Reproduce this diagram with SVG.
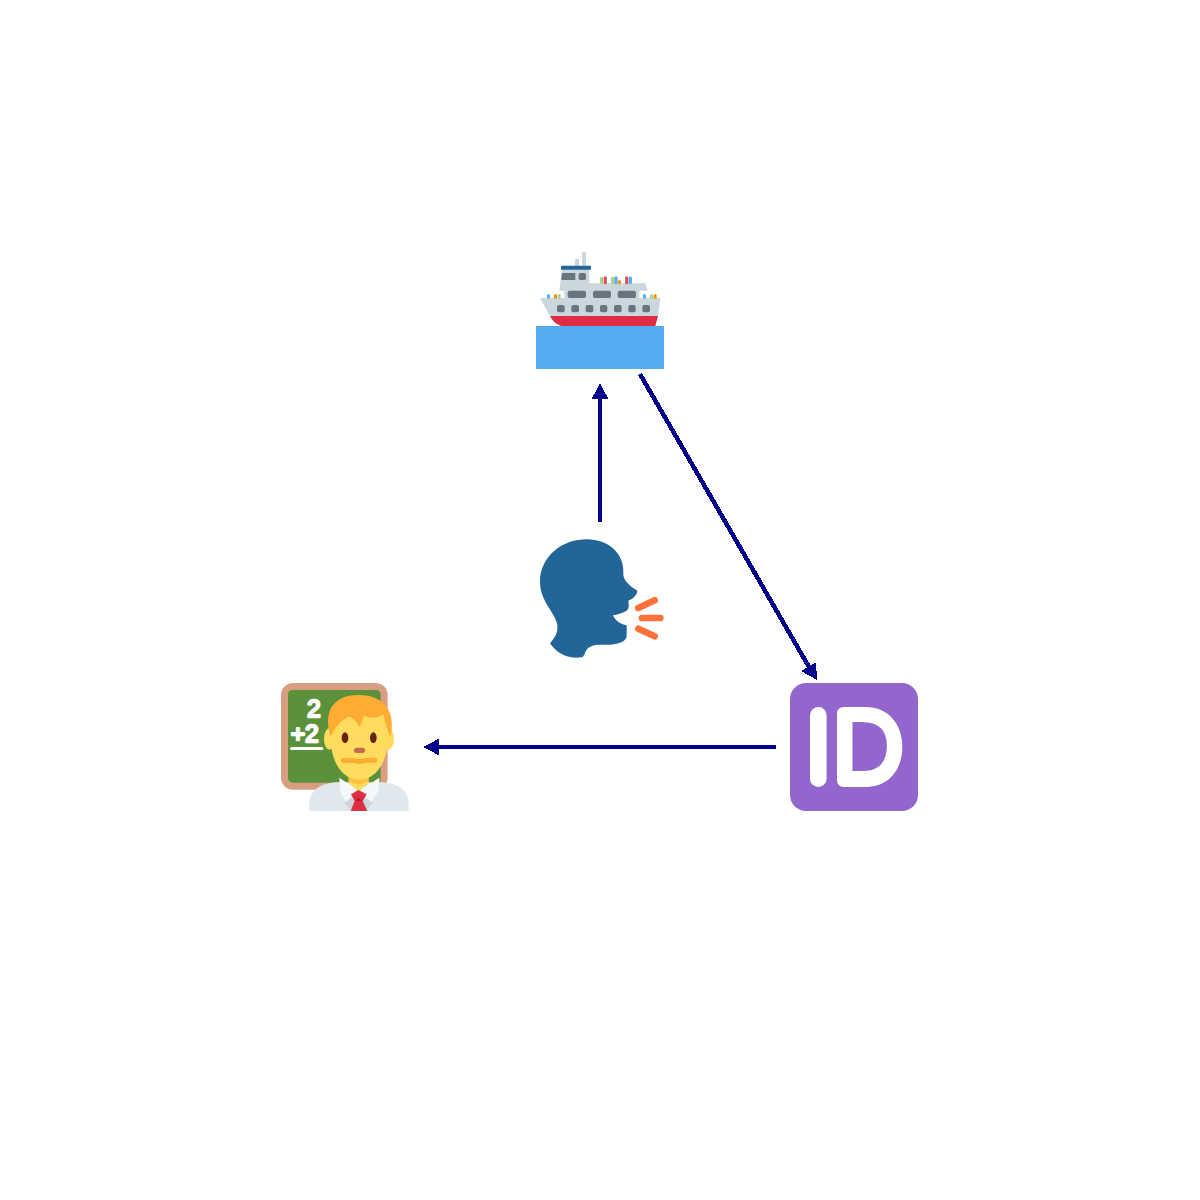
<svg xmlns="http://www.w3.org/2000/svg" width="1200" height="1200" viewBox="0 0 1200 1200">
<defs>
<clipPath id="pill"><rect x="810" y="707" width="16.6" height="80" rx="8.3"/></clipPath>
<clipPath id="dshape"><path d="M844 707H866C888 707 902.3 724 902.3 747C902.3 770 888 787 866 787H844Q837 787 837 780V714Q837 707 844 707Z"/></clipPath>
</defs>
<style>
.c{fill:none;stroke:#00008b;stroke-width:4;shape-rendering:crispEdges}
.h{fill:#00008b;shape-rendering:crispEdges}
.win{fill:#66757f}
.hull{fill:#ccd6dd}
.t{font-family:"Liberation Sans",Arial,sans-serif;fill:#fff;stroke:#fff;stroke-linejoin:round}
</style>
<rect width="1200" height="1200" fill="#fff"/>
<g id="connectors">
<path class="c" d="M600 522V396"/><path class="h" d="M600 383.500L608.500 399H591.500Z"/>
<path class="c" style="stroke-width:4.500" d="M640 374L809 667"/><path class="h" d="M817 680L801 671L816 662.500Z"/>
<path class="c" d="M776 747H436"/><path class="h" d="M423.500 747L439 738.500V755.500Z"/>
</g>
<g id="ship" transform="translate(526 240) scale(.33333)">
<rect x="30" y="258" width="384" height="129" fill="#55acee"/>
<path d="M72 228H396L388 258H105Q82 250 72 228Z" fill="#dd2e44"/>
<path d="M42 174H403L396 228H72Z" class="hull"/>
<rect x="147" y="56" width="12" height="24" rx="5" fill="#ccd6dd"/>
<rect x="168" y="35" width="12" height="45" rx="5" fill="#ccd6dd"/>
<path d="M108 88H190V130H358L365 152H100Z" class="hull"/>
<rect x="115" y="150" width="225" height="26" class="hull"/>
<rect x="105" y="77" width="90" height="12" rx="3" fill="#226699"/>
<path d="M108 99H148V120H106Z" class="win"/>
<rect x="158" y="99" width="22" height="21" rx="5" class="win"/>
<rect x="125" y="152" width="55" height="22" rx="6" class="win"/>
<rect x="201" y="152" width="54" height="22" rx="6" class="win"/>
<rect x="275" y="152" width="55" height="22" rx="6" class="win"/>
<g class="win">
<rect x="93" y="195" width="23" height="22" rx="6"/><rect x="136" y="195" width="23" height="22" rx="6"/><rect x="179" y="195" width="23" height="22" rx="6"/><rect x="222" y="195" width="22" height="22" rx="6"/><rect x="264" y="195" width="23" height="22" rx="6"/><rect x="307" y="195" width="22" height="22" rx="6"/><rect x="349" y="195" width="23" height="22" rx="6"/>
</g>
<rect x="222" y="110" width="10" height="23" rx="5" fill="#a6d388"/>
<rect x="233" y="109" width="10" height="24" rx="5" fill="#dd5566"/>
<rect x="255" y="110" width="10" height="23" rx="5" fill="#a6d388"/>
<rect x="265" y="109" width="10" height="24" rx="5" fill="#5dadec"/>
<rect x="276" y="120" width="9" height="13" rx="4.500" fill="#f4900c"/>
<rect x="297" y="109" width="10" height="24" rx="5" fill="#dd5566"/>
<rect x="308" y="109" width="10" height="24" rx="5" fill="#5dadec"/>
<rect x="63" y="162" width="9" height="14" rx="4.500" fill="#5dadec"/>
<rect x="84" y="162" width="9" height="14" rx="4.500" fill="#f4900c"/>
<rect x="95" y="162" width="9" height="14" rx="4.500" fill="#a6d388"/>
<rect x="351" y="162" width="9" height="14" rx="4.500" fill="#5dadec"/>
<rect x="372" y="162" width="9" height="14" rx="4.500" fill="#a6d388"/>
<rect x="383" y="162" width="9" height="14" rx="4.500" fill="#f4900c"/>
</g>
<g id="speaker" transform="translate(530 530) scale(.33333)">
<path d="M60 340C75 322 84 310 82 285C78 250 30 215 30 155C32 75 100 28 170 28C235 28 285 70 280 135C282 155 305 172 322 182C322 192 312 205 295 212C297 225 298 235 290 242C275 250 262 254 249 256C256 272 270 283 290 286V320C285 335 270 341 240 344C215 346 195 340 178 352C165 360 165 375 158 381C115 390 80 370 60 340Z" fill="#226699"/>
<g stroke="#ff7139" stroke-width="20" stroke-linecap="round" fill="none">
<path d="M325 234L374 211"/><path d="M336 264H391"/><path d="M325 296L374 319"/>
</g>
</g>
<g id="id-button">
<rect x="790" y="683" width="128" height="128" rx="16" fill="#9266cc"/>
<text class="t" x="803.500" y="783" font-size="105" stroke-width="8" clip-path="url(#pill)">I</text>
<text class="t" x="830" y="783" font-size="105" stroke-width="8" clip-path="url(#dshape)">D</text>
</g>
<g id="teacher" transform="translate(270 675) scale(.33333)">
<rect x="33" y="24" width="320" height="320" rx="36" fill="#d99e82"/>
<rect x="54" y="45" width="278" height="278" rx="14" fill="#5c913b"/>
<text class="t" x="111" y="125" font-size="74" stroke-width="7">2</text>
<text class="t" x="62" y="202" font-size="74" stroke-width="7">+2</text>
<rect x="60" y="216" width="100" height="9" rx="4.500" fill="#fff"/>
<path d="M118 408V385C118 350 150 322 205 322H330C385 322 416 350 416 385V408Z" fill="#e1e8ed"/>
<path d="M222 382L265 358L308 382L292 405L265 375L240 405Z" fill="#ccd6dd"/>
<path d="M236 285H296V325L265 350L236 325Z" fill="#ffdc5d"/>
<path d="M236 298Q266 325 296 298V318Q266 338 236 318Z" fill="#f7b733" opacity=".7"/>
<path d="M208 308L262 345L228 382L210 348Z" fill="#f5f8fa"/>
<path d="M328 308L272 345L303 382L325 348Z" fill="#f5f8fa"/>
<path d="M243 358L265 345L290 358L278 378L292 408H242L254 378Z" fill="#dd2e44"/>
<path d="M254 378L265 368L278 378Z" fill="#a0041e" opacity=".6"/>
<ellipse cx="178" cy="192" rx="16" ry="32" fill="#ffdc5d"/><ellipse cx="356" cy="192" rx="16" ry="32" fill="#ffdc5d"/>
<path d="M180 170C180 95 225 70 267 70C320 70 356 110 356 170C356 245 330 312 267 314C205 312 180 245 180 170Z" fill="#ffdc5d"/>
<path d="M182 184C160 115 185 60 265 60C345 60 378 110 362 186C352 165 346 145 340 118C320 132 295 130 282 122C278 135 274 148 268 156C262 140 245 126 236 125C215 135 198 152 182 184Z" fill="#ffac33"/>
<ellipse cx="225" cy="188" rx="10" ry="16" fill="#662113"/>
<ellipse cx="310" cy="188" rx="10" ry="16" fill="#662113"/>
<rect x="252" y="218" width="33" height="16" rx="8" fill="#c1694f"/>
<path d="M220 256Q245 254 267 260Q290 254 315 256" fill="none" stroke="#ffac33" stroke-width="15" stroke-linecap="round"/>
</g>
</svg>
